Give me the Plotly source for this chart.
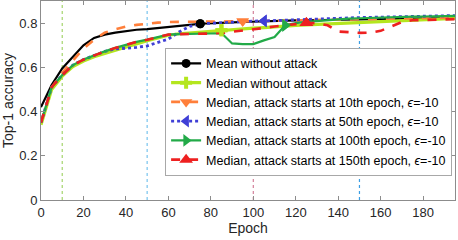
import plotly.graph_objects as go

epochs = list(range(0, 200, 5))

mean_no_attack = [0.42, 0.52, 0.595, 0.65, 0.70, 0.733, 0.748, 0.757, 0.765, 0.77,
                  0.773, 0.777, 0.782, 0.787, 0.792, 0.797, 0.80, 0.802, 0.803, 0.805,
                  0.807, 0.808, 0.81, 0.811, 0.812, 0.813, 0.814, 0.815, 0.816, 0.817,
                  0.818, 0.818, 0.819, 0.82, 0.82, 0.821, 0.822, 0.822, 0.823, 0.823]
median_no_attack = [0.34, 0.50, 0.56, 0.603, 0.628, 0.648, 0.663, 0.678, 0.693, 0.708,
                    0.72, 0.733, 0.745, 0.752, 0.756, 0.759, 0.763, 0.768, 0.771, 0.774,
                    0.777, 0.78, 0.784, 0.787, 0.79, 0.792, 0.794, 0.796, 0.798, 0.80,
                    0.802, 0.805, 0.807, 0.81, 0.812, 0.814, 0.816, 0.818, 0.82, 0.821]
median_att10 = [0.35, 0.51, 0.575, 0.63, 0.685, 0.725, 0.757, 0.772, 0.784, 0.792,
                0.798, 0.802, 0.805, 0.806, 0.807, 0.807, 0.808, 0.808, 0.808, 0.808,
                0.809, 0.81, 0.811, 0.812, 0.813, 0.814, 0.815, 0.816, 0.817, 0.818,
                0.819, 0.82, 0.82, 0.821, 0.822, 0.822, 0.823, 0.824, 0.824, 0.825]
median_att50 = [0.35, 0.51, 0.565, 0.61, 0.635, 0.655, 0.672, 0.683, 0.686, 0.69,
                0.697, 0.713, 0.728, 0.76, 0.785, 0.797, 0.80, 0.802, 0.805, 0.807,
                0.809, 0.81, 0.812, 0.814, 0.816, 0.818, 0.82, 0.821, 0.822, 0.823,
                0.825, 0.826, 0.827, 0.828, 0.829, 0.83, 0.831, 0.832, 0.833, 0.834]
median_att100 = [0.35, 0.51, 0.565, 0.61, 0.635, 0.655, 0.672, 0.688, 0.702, 0.715,
                 0.725, 0.738, 0.748, 0.75, 0.75, 0.752, 0.753, 0.755, 0.708, 0.705,
                 0.705, 0.722, 0.737, 0.79, 0.80, 0.806, 0.81, 0.814, 0.817, 0.82,
                 0.822, 0.824, 0.826, 0.827, 0.828, 0.829, 0.83, 0.831, 0.832, 0.833]
median_att150 = [0.35, 0.51, 0.565, 0.61, 0.635, 0.655, 0.672, 0.688, 0.702, 0.715,
                 0.725, 0.738, 0.748, 0.75, 0.75, 0.752, 0.753, 0.755, 0.76, 0.765,
                 0.772, 0.778, 0.785, 0.79, 0.796, 0.80, 0.80, 0.79, 0.762, 0.758,
                 0.756, 0.757, 0.765, 0.785, 0.805, 0.813, 0.815, 0.816, 0.817, 0.818]

attack_epochs = [10, 50, 100, 150]

names = ["Mean without attack",
         "Median without attack",
         "Median, attack starts at 10th epoch, <i>ϵ</i>=-10",
         "Median, attack starts at 50th epoch, <i>ϵ</i>=-10",
         "Median, attack starts at 100th epoch, <i>ϵ</i>=-10",
         "Median, attack starts at 150th epoch, <i>ϵ</i>=-10"]
series = [mean_no_attack, median_no_attack, median_att10, median_att50,
          median_att100, median_att150]
marker_epochs = [75, 85, 95, 105, 115, 125]

colors = ["#000000", "#b4e61e", "#ff7f3a", "#3f3fd6", "#22aa48", "#ee2020"]
widths = [2.2, 3.2, 2.6, 2.8, 2.2, 2.6]
dashes = ["solid", "solid", "dash", "dot", "solid", "dash"]
symbols = ["circle", "cross", "triangle-down", "triangle-left", "triangle-right", "triangle-up"]
msizes = [9, 10, 11, 11, 11, 12]
vline_colors = ["#a4d46c", "#78c4ee", "#d4809a", "#3a9ee4"]

fig = go.Figure()
for ys, c, w, d in zip(series, colors, widths, dashes):
    fig.add_trace(go.Scatter(x=epochs, y=ys, mode="lines", showlegend=False,
                             line=dict(color=c, width=w, dash=d)))
for name, ys, me, c, w, d, s, ms in zip(names, series, marker_epochs, colors,
                                         widths, dashes, symbols, msizes):
    i = epochs.index(me)
    # legend entry (line + marker) and the single marker on the curve
    fig.add_trace(go.Scatter(x=[epochs[i]], y=[ys[i]], mode="lines+markers", name=name,
                             line=dict(color=c, width=w, dash=d),
                             marker=dict(symbol=s, size=ms, color=c)))
for ys, me, c, s, ms in zip(series, marker_epochs, colors, symbols, msizes):
    i = epochs.index(me)
    fig.add_trace(go.Scatter(x=[epochs[i]], y=[ys[i]], mode="markers", showlegend=False,
                             marker=dict(symbol=s, size=ms, color=c)))

for ae, vc in zip(attack_epochs, vline_colors):
    fig.add_vline(x=ae, line=dict(color=vc, width=1.2, dash="dot"), layer="below")

axis_common = dict(showgrid=False, zeroline=False, showline=True, linecolor="#8c8c8c",
                   linewidth=1, mirror="ticks", ticks="inside", ticklen=4,
                   tickcolor="#8c8c8c", tickfont=dict(size=13, color="#262626"),
                   automargin=False)

fig.update_layout(
    width=458, height=240,
    margin=dict(l=41, r=3, t=1, b=40),
    paper_bgcolor="white", plot_bgcolor="white",
    font=dict(family="Liberation Sans, Arial, sans-serif", color="#262626"),
    xaxis=dict(range=[0, 195], tickvals=list(range(0, 200, 20)),
               title=dict(text="Epoch", font=dict(size=14), standoff=4), **axis_common),
    yaxis=dict(range=[0, 0.9], tickvals=[0, 0.2, 0.4, 0.6, 0.8],
               ticktext=["0", "0.2", "0.4", "0.6", "0.8"],
               title=dict(text="Top-1 accuracy", font=dict(size=14), standoff=6), **axis_common),
    legend=dict(x=0.993, xanchor="right", y=0.765, yanchor="top",
                bgcolor="white", bordercolor="#a8a8a8", borderwidth=1,
                font=dict(size=12.5, color="#000000"), itemwidth=30,
                tracegroupgap=0),
)

fig.write_html("out.html", config={"displayModeBar": False},
               post_script="document.body.style.margin='0';")
